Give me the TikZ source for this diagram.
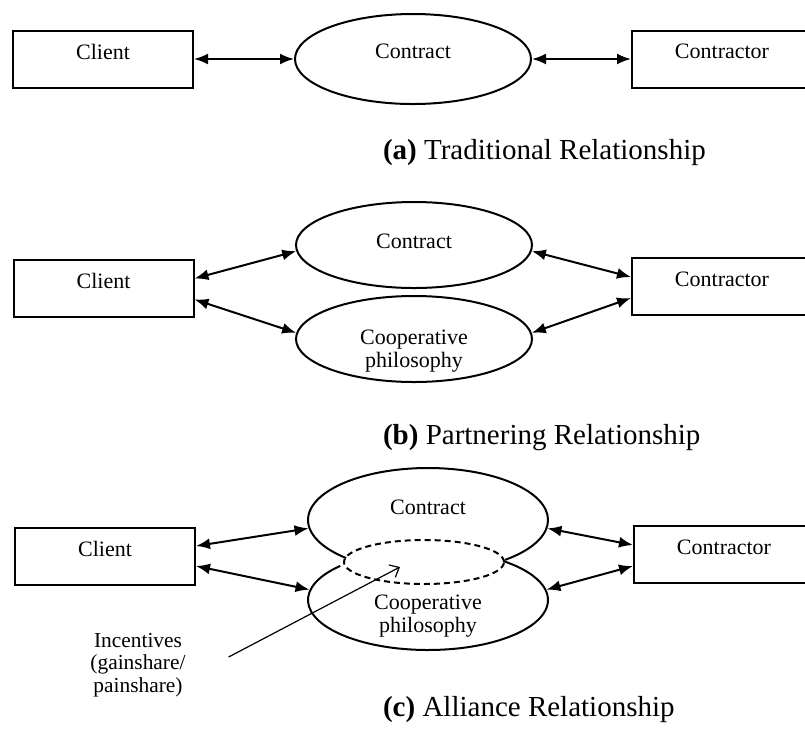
\documentclass[tikz,border=0pt]{standalone}
\usepackage{fontspec}
\setmainfont{Liberation Serif}
\usetikzlibrary{positioning, shapes.geometric, arrows.meta}
\tikzstyle{Link} = [
	line width=1pt,
	{Latex[length=7pt,width=5.5pt]}-{Latex[length=7pt,width=5.5pt]}
	]
\tikzstyle{Pointer} = [semithick, -{Straight Barb[length=4pt,width=7pt]}]
\tikzstyle{Box} = [draw, line width=1pt, minimum width=90pt, minimum height=28.5pt,
	text depth=7.5pt, font=\fontsize{11}{13}\selectfont]
\tikzstyle{Oval} = [ellipse, draw, line width=1pt, inner sep=0pt, minimum width=118pt,
	minimum height=43pt, align=center, font=\fontsize{11}{11.5}\selectfont]
\tikzstyle{Caption} = [anchor=west, font=\fontsize{14.5}{17}\selectfont]

\begin{document}
\begin{tikzpicture}[x=0.5pt, y=-0.5pt]
	\useasboundingbox (0,0) rectangle (805,736);
	%nodes (a):
		\node [Box] (clientA) at (103,59) {Client};
		\node [Oval, minimum height=45pt, text depth=7.5pt] (contractA) at (413,59) {Contract};
		\node [Box] (contractorA) at (722,59) {Contractor};
		\node [Caption] (captionA) at (376,153) {\textbf{(a)} Traditional Relationship};
	%nodes (b):
		\node [Box] (clientB) at (103.5,288.5) {Client};
		\node [Oval, text depth=3.4pt] (contractB) at (414,245) {Contract};
		\node [Oval, label={[align=center, font=\fontsize{11}{11.5}\selectfont, yshift=-6pt]center:Cooperative\\philosophy}] (coopB) at (414,339) {};
		\node [Box] (contractorB) at (722,286.5) {Contractor};
		\node [Caption] (captionB) at (376,438) {\textbf{(b)} Partnering Relationship};
	%nodes (c):
		\node [Box] (clientC) at (105,556) {Client};
		\node [Oval, draw=none, minimum width=120pt, minimum height=52pt, text depth=12.4pt] (contractC) at (428,520) {Contract};
		\node [Oval, draw=none, minimum width=120pt, minimum height=50pt, label={[align=center, font=\fontsize{11}{11.5}\selectfont, yshift=-8pt]center:Cooperative\\philosophy}] (coopC) at (428,600) {};
		\node [Oval, dash pattern=on 3pt off 2pt, minimum width=80pt, minimum height=22pt] (gapC) at (424,562) {};
		\node [Box] (contractorC) at (724,554.5) {Contractor};
		\node [align=center, font=\fontsize{10.7}{11.25}\selectfont] (incentives) at (138,665) {Incentives\\(gainshare/\\painshare)};
		\node [Caption] (captionC) at (376,710) {\textbf{(c)} Alliance Relationship};
	%edges:
		\draw[Link] (clientA.east) -- (contractA.west);
		\draw[Link] (contractA.east) -- (contractorA.west);
		\draw[Link] ([yshift=5pt]clientB.east) -- (contractB.183);
		\draw[Link] ([yshift=-5.5pt]clientB.east) -- (coopB.177);
		\draw[Link] (contractB.357) -- ([yshift=4.75pt]contractorB.west);
		\draw[Link] (coopB.3) -- ([yshift=-5.75pt]contractorB.west);
		\draw[Link] ([yshift=5pt]clientC.east) -- (contractC.184);
		\draw[Link] ([yshift=-5pt]clientC.east) -- (coopC.175);
		\draw[Link] (contractC.356) -- ([yshift=4.75pt]contractorC.west);
		\draw[Link] (coopC.5) -- ([yshift=-5.75pt]contractorC.west);
	%overlapping ovals:
		\draw[line width=1pt] (contractC.center) ++(-50:60pt and 26pt)
			arc[start angle=-50, end angle=227, x radius=60pt, y radius=26pt];
		\draw[line width=1pt] (coopC.center) ++(137:60pt and 25pt)
			arc[start angle=137, end angle=411, x radius=60pt, y radius=25pt];
		\draw[Pointer] ([xshift=18pt,yshift=4pt]incentives.east) -- ([xshift=-12pt,yshift=-2.5pt]gapC.center);
\end{tikzpicture}
\end{document}
